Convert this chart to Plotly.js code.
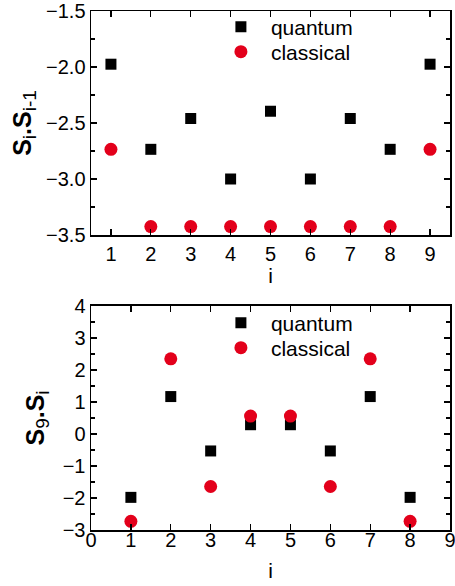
<!DOCTYPE html>
<html><head><meta charset="utf-8">
<script src="https://cdn.plot.ly/plotly-3.0.1.min.js"></script>
<style>html,body{margin:0;padding:0;background:#fff}#g{width:455px;height:586px}</style>
</head><body><div id="g"></div>
<script>
// Top panel: nearest-neighbour correlation S_i . S_{i-1}
const iTop = [1, 2, 3, 4, 5, 6, 7, 8, 9];
const quantumTop = [-1.975, -2.735, -2.46, -3.0, -2.395, -3.0, -2.46, -2.735, -1.975];
const classicalTop = [-2.735, -3.425, -3.425, -3.425, -3.425, -3.425, -3.425, -3.425, -2.735];
// Bottom panel: correlation S_9 . S_i
const iBot = [1, 2, 3, 4, 5, 6, 7, 8];
const quantumBot = [-1.98, 1.17, -0.53, 0.29, 0.29, -0.53, 1.17, -1.98];
const classicalBot = [-2.73, 2.35, -1.64, 0.56, 0.56, -1.64, 2.35, -2.73];

const RED = '#e3001b';
const FONT = 'Liberation Sans, Arial, sans-serif';
const sq = {symbol: 'square', size: 11, color: '#000'};
const ci = {symbol: 'circle', size: 13, color: RED};

const data = [
  {x: iTop, y: quantumTop, mode: 'markers', name: 'quantum', marker: sq, xaxis: 'x', yaxis: 'y', legend: 'legend'},
  {x: iTop, y: classicalTop, mode: 'markers', name: 'classical', marker: ci, xaxis: 'x', yaxis: 'y', legend: 'legend2'},
  {x: iBot, y: quantumBot, mode: 'markers', name: 'quantum', marker: sq, xaxis: 'x2', yaxis: 'y2', legend: 'legend3'},
  {x: iBot, y: classicalBot, mode: 'markers', name: 'classical', marker: ci, xaxis: 'x2', yaxis: 'y2', legend: 'legend4'}
];

function ax(extra) {
  const base = {
    showline: true, linecolor: '#000', linewidth: 1.5, mirror: 'allticks',
    ticks: 'inside', ticklen: 6, tickwidth: 1.3, tickcolor: '#000',
    showgrid: false, zeroline: false, ticklabeloverflow: 'allow',
    tickfont: {family: FONT, size: 20, color: '#000'}
  };
  return Object.assign(base, extra);
}
const SUB = s => '<sub><span style="font-size:19px;font-weight:normal">' + s + '</span></sub>';
function leg(y) {
  return {x: 0.334, y: y, xanchor: 'left', yanchor: 'middle', bgcolor: 'rgba(0,0,0,0)',
    font: {family: FONT, size: 21, color: '#000'}, tracegroupgap: 0, itemwidth: 50, borderwidth: 0};
}

const layout = {
  width: 455, height: 586,
  margin: {l: 91, r: 5, t: 11, b: 56, autoexpand: false},
  paper_bgcolor: '#fff', plot_bgcolor: '#fff',
  font: {family: FONT, color: '#000', size: 20},
  showlegend: true,
  xaxis: ax({
    domain: [0, 1], anchor: 'y', range: [0.5, 9.5], tickmode: 'linear', tick0: 1, dtick: 1,
    ticklabelstandoff: 0,
    title: {text: 'i', font: {family: FONT, size: 21}, standoff: 2}
  }),
  yaxis: ax({
    domain: [0.5684, 1], anchor: 'x', range: [-3.5, -1.5], tickmode: 'linear', tick0: -3.5, dtick: 0.5,
    tickformat: '.1f',
    minor: {ticks: 'inside', ticklen: 4, tickwidth: 1.3, tickcolor: '#000', dtick: 0.25, tick0: -3.5, showgrid: false},
    title: {text: '<b>S</b>' + SUB('i') + '<b>.S</b>' + SUB('i-1'), font: {family: FONT, size: 25}, standoff: 7}
  }),
  xaxis2: ax({
    domain: [0, 1], anchor: 'y2', range: [0, 9], tickmode: 'linear', tick0: 0, dtick: 1,
    ticklabelstandoff: -9,
    title: {text: 'i', font: {family: FONT, size: 21}, standoff: 14}
  }),
  yaxis2: ax({
    domain: [0, 0.4316], anchor: 'x2', range: [-3, 4], tickmode: 'linear', tick0: -3, dtick: 1,
    minor: {ticks: 'inside', ticklen: 4, tickwidth: 1.3, tickcolor: '#000', dtick: 0.5, tick0: -3, showgrid: false},
    title: {text: '<b>S</b>' + SUB('9') + '<b>.S</b>' + SUB('i'), font: {family: FONT, size: 25}, standoff: 11}
  }),
  legend: leg(0.9692),
  legend2: leg(0.921),
  legend3: leg(0.3988),
  legend4: leg(0.3507)
};

Plotly.newPlot('g', data, layout, {staticPlot: true, displayModeBar: false});
</script>
</body></html>
